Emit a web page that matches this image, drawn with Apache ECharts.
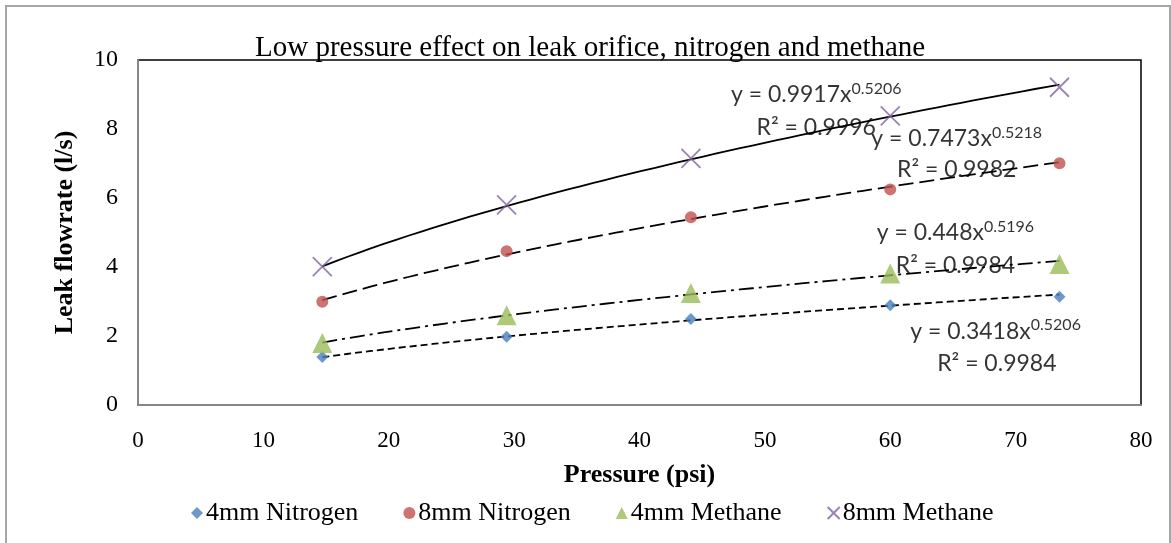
<!DOCTYPE html>
<html>
<head>
<meta charset="utf-8">
<script src="https://cdn.jsdelivr.net/npm/echarts@6/dist/echarts.min.js"></script>
<style>
  html, body { margin: 0; padding: 0; background: #fff; }
  #chart { width: 1171px; height: 543px; }
</style>
</head>
<body>
<div id="chart"></div>
<script>
// Measured leak flowrates (l/s) at each test pressure (psi)
const pressure = [14.7, 29.4, 44.1, 60, 73.5];
const nitrogen4mm = [1.39, 1.98, 2.49, 2.89, 3.14];
const nitrogen8mm = [2.99, 4.46, 5.44, 6.25, 7.01];
const methane4mm = [1.80, 2.60, 3.25, 3.81, 4.09];
const methane8mm = [4.01, 5.80, 7.15, 8.38, 9.21];

const seriesNames = ['4mm Nitrogen', '8mm Nitrogen', '4mm Methane', '8mm Methane'];

// Power-law trendlines y = a·x^b with their R² values
const fitCoef = [0.3418, 0.7473, 0.448, 0.9917];
const fitExp = [0.5206, 0.5218, 0.5196, 0.5206];
const fitR2 = ['0.9984', '0.9982', '0.9984', '0.9996'];

const xTicks = [0, 10, 20, 30, 40, 50, 60, 70, 80];
const yTicks = [0, 2, 4, 6, 8, 10];

const measured = [nitrogen4mm, nitrogen8mm, methane4mm, methane8mm];
const colors = ['#4A7EBB', '#C0504D', '#9BBB59', '#8064A2'];
const symbols = ['diamond', 'circle', 'triangle', 'path://M0,0L10,10M10,0L0,10'];
const symbolSizes = [12, 12, 20, 19];
const dashes = [[7, 4], [15, 6], [15, 5, 3, 5], 'solid'];

const serif = '"Liberation Serif", "Times New Roman", serif';
const sans = 'Lato, "Noto Sans", sans-serif';

function trendCurve(k) {
  const x0 = pressure[0], x1 = pressure[pressure.length - 1];
  const pts = [];
  const n = 60;
  for (let i = 0; i <= n; i++) {
    const x = x0 + (x1 - x0) * i / n;
    pts.push([x, fitCoef[k] * Math.pow(x, fitExp[k])]);
  }
  return pts;
}

// Where each equation / R² pair sits, in axis units
const eqAnchor = [[68.4, 2.14], [65.3, 7.71], [65.2, 4.99], [54.1, 8.99]];
const r2Anchor = [[68.5, 1.19], [65.3, 6.81], [65.2, 4.03], [54.1, 8.03]];

const series = [];

// trendlines first so the markers sit on top
for (let k = 0; k < 4; k++) {
  series.push({
    name: seriesNames[k] + ' fit',
    type: 'line',
    data: trendCurve(k),
    showSymbol: false,
    symbol: 'none',
    silent: true,
    z: 2,
    lineStyle: { color: '#000', width: 1.8, type: dashes[k] },
    animation: false
  });
}

for (let k = 0; k < 4; k++) {
  const isCross = k === 3;
  series.push({
    name: seriesNames[k],
    type: 'scatter',
    data: pressure.map((p, i) => [p, measured[k][i]]),
    symbol: symbols[k],
    symbolSize: symbolSizes[k],
    z: 3,
    itemStyle: isCross
      ? { color: 'rgba(0,0,0,0)', borderColor: colors[k], borderWidth: 1.8 }
      : { color: colors[k] },
    animation: false
  });
}

// equation labels
const labelData = [];
for (let k = 0; k < 4; k++) {
  labelData.push({
    value: eqAnchor[k],
    label: {
      formatter: '{m|y = ' + fitCoef[k] + 'x}{s|' + fitExp[k].toFixed(4) + '}'
    }
  });
  labelData.push({
    value: r2Anchor[k],
    label: { formatter: '{m|R² = ' + fitR2[k] + '}' }
  });
}
series.push({
  name: 'equations',
  type: 'scatter',
  data: labelData,
  symbolSize: 0,
  silent: true,
  z: 4,
  label: {
    show: true,
    position: 'inside',
    color: '#000',
    rich: {
      m: { fontFamily: sans, fontSize: 23, color: '#000', lineHeight: 28 },
      s: { fontFamily: sans, fontSize: 16, color: '#000', verticalAlign: 'top', lineHeight: 28, padding: [0, 0, 8, 0] }
    }
  },
  animation: false
});

const chart = echarts.init(document.getElementById('chart'), null, { renderer: 'canvas' });
chart.setOption({
  backgroundColor: '#fff',
  animation: false,
  title: {
    text: 'Low pressure effect on leak orifice, nitrogen and methane',
    left: 250,
    top: 29,
    textStyle: { fontFamily: serif, fontSize: 29, fontWeight: 'normal', color: '#000' }
  },
  legend: {
    data: seriesNames,
    left: 186,
    top: 495,
    itemGap: 45,
    itemWidth: 12,
    itemHeight: 12,
    textStyle: { fontFamily: serif, fontSize: 26, color: '#000', padding: [0, 0, 0, -2] }
  },
  grid: {
    left: 138,
    right: 30,
    top: 60,
    bottom: 138,
    show: true,
    borderColor: '#000',
    borderWidth: 1.5,
    backgroundColor: '#fff'
  },
  xAxis: {
    type: 'value',
    min: xTicks[0],
    max: xTicks[xTicks.length - 1],
    interval: xTicks[1] - xTicks[0],
    name: 'Pressure (psi)',
    nameLocation: 'middle',
    nameGap: 57,
    nameTextStyle: { fontFamily: serif, fontSize: 26, fontWeight: 'bold', color: '#000' },
    axisLine: { show: true, lineStyle: { color: '#868686', width: 2 } },
    axisTick: { show: false },
    splitLine: { show: false },
    axisLabel: { fontFamily: serif, fontSize: 23, color: '#000', margin: 24 }
  },
  yAxis: {
    type: 'value',
    min: yTicks[0],
    max: yTicks[yTicks.length - 1],
    interval: yTicks[1] - yTicks[0],
    name: 'Leak flowrate (l/s)',
    nameLocation: 'middle',
    nameGap: 60,
    nameTextStyle: { fontFamily: serif, fontSize: 26, fontWeight: 'bold', color: '#000' },
    axisLine: { show: true, lineStyle: { color: '#868686', width: 2 } },
    axisTick: { show: false },
    splitLine: { show: false },
    axisLabel: { fontFamily: serif, fontSize: 24, color: '#000', margin: 20 }
  },
  graphic: [
    {
      type: 'rect',
      silent: true,
      z: -10,
      shape: { x: 6, y: 6, width: 1164, height: 560 },
      style: { fill: 'none', stroke: '#a6a6a6', lineWidth: 2 }
    }
  ],
  series: series
});
</script>
</body>
</html>
